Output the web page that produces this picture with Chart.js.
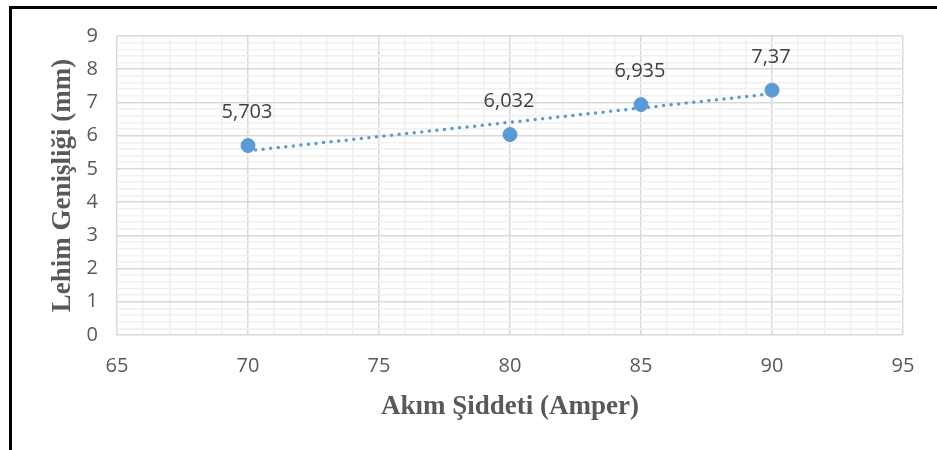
<!DOCTYPE html>
<html>
<head>
<meta charset="utf-8">
<script src="https://cdn.jsdelivr.net/npm/chart.js@4"></script>
<style>
  html, body { margin: 0; padding: 0; background: #fff; }
  #wrap { position: relative; width: 937px; height: 450px; }
  #frame { position: absolute; left: 9px; top: 6px; width: 940px; height: 460px;
           border-left: 3px solid #000; border-top: 3px solid #000; box-sizing: border-box; pointer-events: none; }
</style>
</head>
<body>
<div id="wrap">
  <canvas id="chart" width="937" height="450"></canvas>
  <div id="frame"></div>
</div>
<script>
const akim = [70, 80, 85, 90];
const genislik = [5.703, 6.032, 6.935, 7.37];
const etiketler = ['5,703', '6,032', '6,935', '7,37'];

// linear trendline (least squares) from the data
const n = akim.length;
const mx = akim.reduce((a, b) => a + b, 0) / n;
const my = genislik.reduce((a, b) => a + b, 0) / n;
let sxy = 0, sxx = 0;
for (let i = 0; i < n; i++) {
    sxy += (akim[i] - mx) * (genislik[i] - my);
    sxx += (akim[i] - mx) * (akim[i] - mx);
}
const slope = sxy / sxx;
const icpt = my - slope * mx;
const trend = [akim[0], akim[n - 1]].map(x => ({ x: x, y: icpt + slope * x }));

const isMajor = (v, step) => Math.abs(v / step - Math.round(v / step)) < 1e-6;

const labelPlugin = {
    id: 'labels',
    afterDatasetsDraw(chart) {
        const meta = chart.getDatasetMeta(1);
        const ctx = chart.ctx;
        ctx.save();
        ctx.font = '20px "Open Sans"';
        ctx.fillStyle = '#404040';
        ctx.textAlign = 'center';
        ctx.textBaseline = 'middle';
        meta.data.forEach((pt, i) => {
            ctx.fillText(etiketler[i], pt.x - 1, pt.y - 33);
        });
        ctx.restore();
    }
};

const ctx = document.getElementById('chart').getContext('2d');
new Chart(ctx, {
    type: 'scatter',
    data: {
        datasets: [{
            data: trend,
            showLine: true,
            borderColor: '#5b9bd5',
            borderWidth: 3.5,
            borderDash: [0, 7.6],
            borderCapStyle: 'round',
            pointRadius: 0,
            fill: false
        }, {
            data: akim.map((x, i) => ({ x: x, y: genislik[i] })),
            backgroundColor: '#5b9bd5',
            borderColor: '#5b9bd5',
            pointRadius: 7,
            pointHoverRadius: 7
        }]
    },
    options: {
        responsive: false,
        animation: false,
        layout: { padding: { left: 47, top: 36, right: 34, bottom: 27 } },
        plugins: {
            legend: { display: false },
            tooltip: { enabled: false }
        },
        scales: {
            x: {
                type: 'linear',
                min: 65,
                max: 95,
                afterFit: function(s) { s.height = 88; },
                border: { display: false },
                grid: {
                    drawTicks: false,
                    color: c => isMajor(c.tick.value, 5) ? '#d9d9d9' : '#f0f0f0',
                    lineWidth: 1.5
                },
                ticks: {
                    stepSize: 1,
                    autoSkip: false,
                    maxTicksLimit: 100,
                    maxRotation: 0,
                    padding: 19,
                    color: '#595959',
                    font: { family: 'Open Sans', size: 20 },
                    callback: v => isMajor(v, 5) ? v : ''
                },
                title: {
                    display: true,
                    text: 'Akım Şiddeti (Amper)',
                    color: '#595959',
                    font: { family: 'Liberation Serif', size: 27, weight: 'bold' },
                    padding: { top: 0, bottom: 0 }
                }
            },
            y: {
                min: 0,
                max: 9,
                afterFit: function(s) { s.width = 70; },
                border: { display: false },
                grid: {
                    drawTicks: false,
                    color: c => isMajor(c.tick.value, 1) ? '#d9d9d9' : '#f0f0f0',
                    lineWidth: 1.5
                },
                ticks: {
                    stepSize: 0.2,
                    autoSkip: false,
                    maxTicksLimit: 100,
                    padding: 19,
                    color: '#595959',
                    font: { family: 'Open Sans', size: 20 },
                    callback: v => isMajor(v, 1) ? Math.round(v) : ''
                },
                title: {
                    display: true,
                    text: 'Lehim Genişliği (mm)',
                    color: '#595959',
                    font: { family: 'Liberation Serif', size: 27, weight: 'bold' },
                    padding: { top: 0, bottom: 0 }
                }
            }
        }
    },
    plugins: [labelPlugin]
});
</script>
</body>
</html>
